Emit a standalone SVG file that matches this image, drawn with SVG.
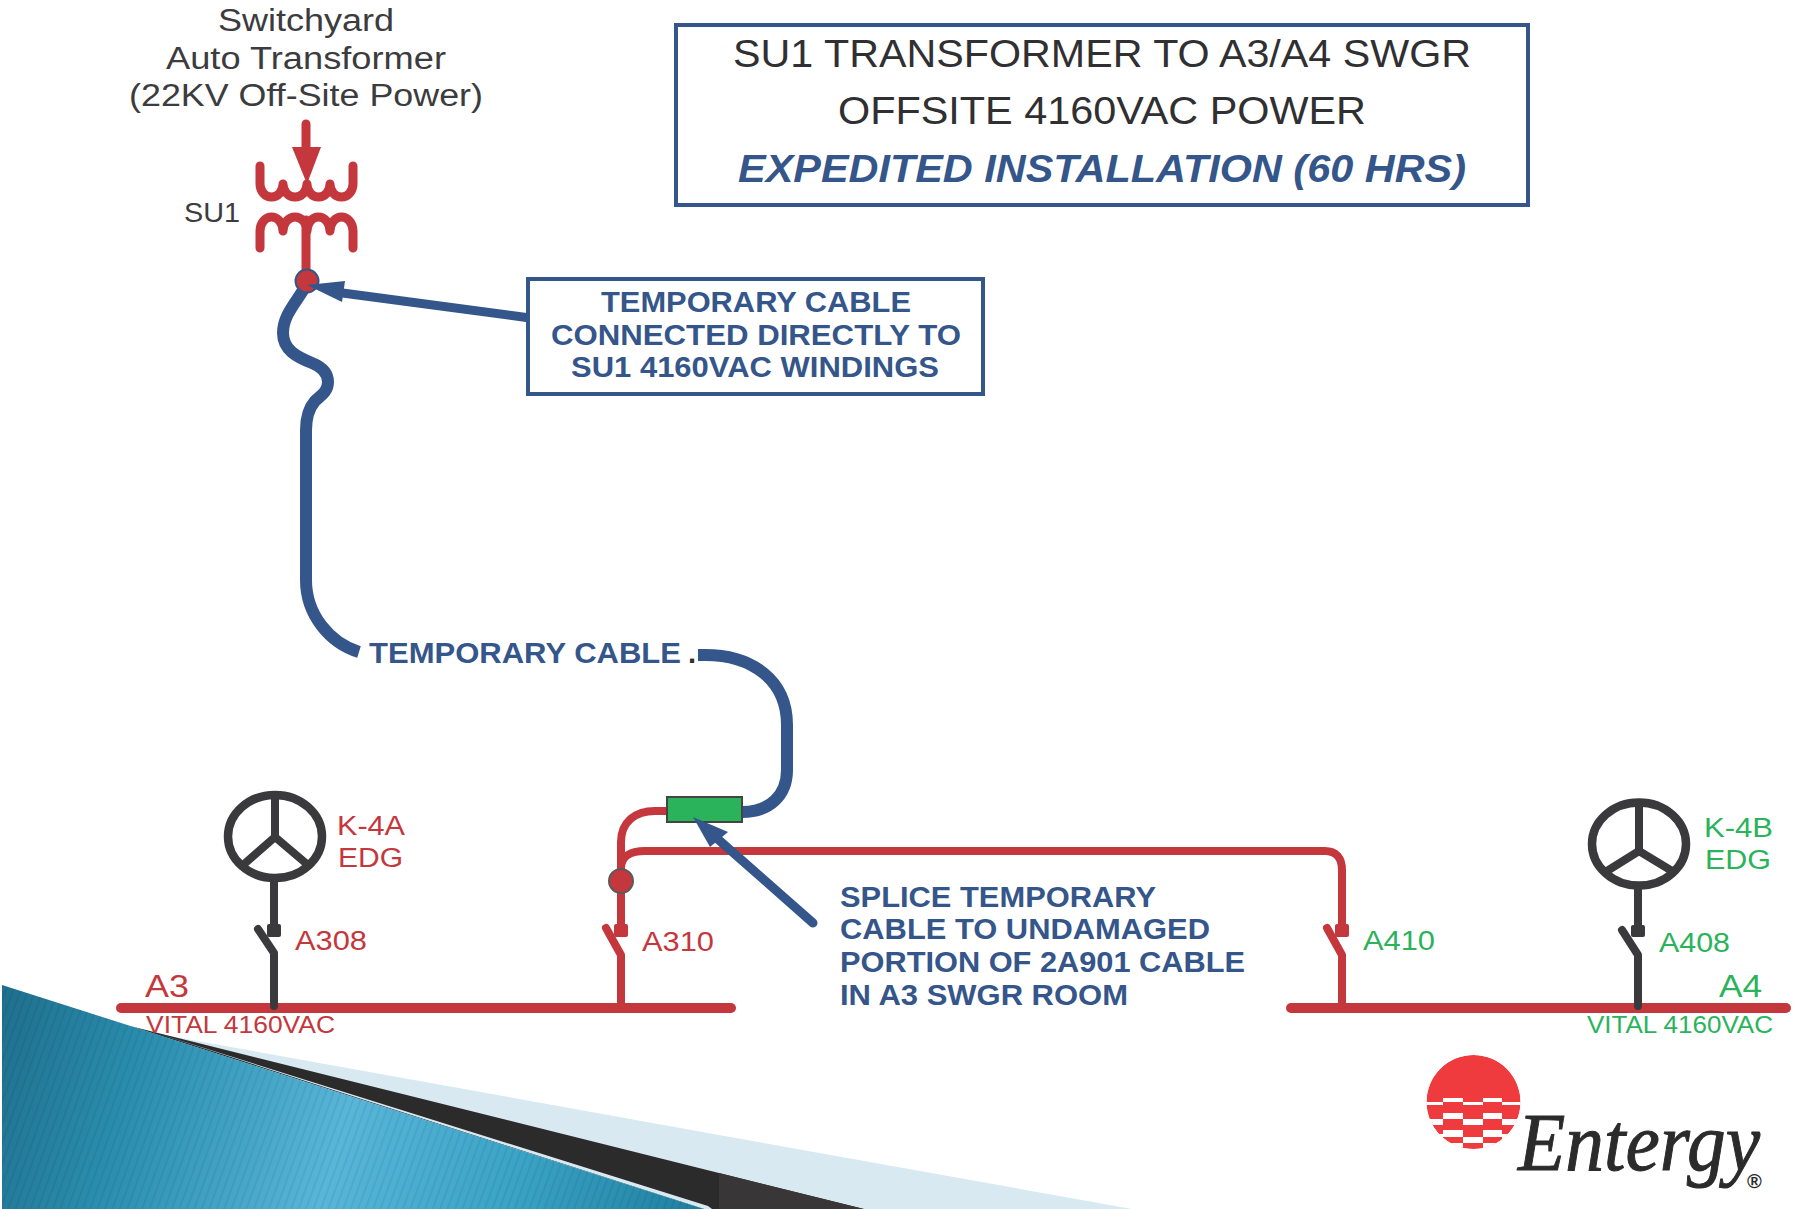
<svg xmlns="http://www.w3.org/2000/svg" width="1796" height="1209" viewBox="0 0 1796 1209">
<style>
text{font-family:"Liberation Sans",Arial,sans-serif}
.red{fill:#c4373c}.grn{fill:#2bb35c}.blu{fill:#35568a;font-weight:bold}.gry{fill:#3c3c3e}
.l26{font-size:27px}.l25{font-size:24px}
.w{fill:none;stroke:#c4373c;stroke-width:9;stroke-linecap:round;stroke-linejoin:round}
.r{fill:none;stroke:#c4373c;stroke-width:8;stroke-linecap:round;stroke-linejoin:round}
.c{fill:none;stroke:#35568a;stroke-width:12}
.d{fill:none;stroke:#3a3a3c;stroke-width:8;stroke-linecap:round;stroke-linejoin:round}
.bus{fill:none;stroke:#c4373c;stroke-width:10;stroke-linecap:round}
</style>
<defs>
<linearGradient id="teal" gradientUnits="userSpaceOnUse" x1="0" y1="1000" x2="700" y2="1209">
<stop offset="0" stop-color="#1f6f8e"/><stop offset="0.2" stop-color="#2a8dad"/><stop offset="0.5" stop-color="#58b6d9"/><stop offset="0.75" stop-color="#3aa3c6"/><stop offset="1" stop-color="#1f7f9f"/>
</linearGradient>
<pattern id="hatch" width="7" height="7" patternUnits="userSpaceOnUse" patternTransform="rotate(20)"><rect width="2" height="7" fill="#000" opacity="0.06"/></pattern>
<clipPath id="sun"><circle cx="1473.500" cy="1102" r="47"/></clipPath>
</defs>
<rect width="1796" height="1209" fill="#fff"/>

<g id="backdrop">
<polygon points="153,1033 719,1135 1132,1209 864,1209" fill="#d8e9f2"/>
<polygon points="130,1026 719,1173 864,1209 704,1209" fill="#2b2b2b"/>
<polygon points="719,1173 864,1209 719,1209" fill="#393637"/>
<polygon points="153,1032 708,1206 712,1209 704,1209" fill="#d8e9f2"/>
<polygon points="2,985 704,1209 2,1209" fill="url(#teal)"/>
<polygon points="2,985 704,1209 2,1209" fill="url(#hatch)"/>
</g>

<g id="title">
<rect x="676" y="25" width="852" height="180" fill="#fff" stroke="#35568a" stroke-width="4"/>
<text x="1102" y="67" text-anchor="middle" font-size="38" fill="#303032" textLength="738" lengthAdjust="spacingAndGlyphs">SU1 TRANSFORMER TO A3/A4 SWGR</text>
<text x="1102" y="124" text-anchor="middle" font-size="38" fill="#303032" textLength="528" lengthAdjust="spacingAndGlyphs">OFFSITE 4160VAC POWER</text>
<text x="1102" y="182" text-anchor="middle" font-size="38" fill="#35568a" font-weight="bold" font-style="italic" textLength="728" lengthAdjust="spacingAndGlyphs">EXPEDITED INSTALLATION (60 HRS)</text>
</g>

<g id="source-label" class="gry">
<text x="306" y="31" text-anchor="middle" font-size="31" textLength="176" lengthAdjust="spacingAndGlyphs">Switchyard</text>
<text x="306" y="69" text-anchor="middle" font-size="31" textLength="280" lengthAdjust="spacingAndGlyphs">Auto Transformer</text>
<text x="306" y="106" text-anchor="middle" font-size="31" textLength="354" lengthAdjust="spacingAndGlyphs">(22KV Off-Site Power)</text>
</g>

<g id="connectors">
<path class="c" d="M305 287 C296 303 283 315 283 333 C283 350 297 357 312 363 C322 367 328 373 328 382 C328 392 320 396 315 401 C309 408 306 416 306 430 L306 580 C306 615 330 643 359 652"/>
<path class="c" d="M698 655 L705 655 C752 655 787 680 787 725 L787 770 C787 795 770 812 742 812"/>
<path class="r" d="M667 811 L655 811 C635 811 621 822 621 842 L621 928"/>
<path class="r" d="M621 868 C621 857 630 851 645 851 L1325 851 C1336 851 1342 858 1342 870 L1342 928"/>
</g>

<g id="su1">
<path class="w" d="M306 124 L306 160"/>
<polygon points="292,147 321,147 307,184" fill="#c4373c"/>
<path class="w" d="M260 166 L260 184 A11.500 13 0 0 0 283 184 A12 13 0 0 0 307 184 A11.500 13 0 0 0 330 184 A11.500 13 0 0 0 353 184 L353 166"/>
<path class="w" d="M260 248 L260 231 A11.500 14 0 0 1 283 231 A12 14 0 0 1 307 231 A11.500 14 0 0 1 330 231 A11.500 14 0 0 1 353 231 L353 248"/>
<path class="w" d="M306 220 L306 282"/>
<circle cx="307" cy="281" r="11.500" fill="#c4373c" stroke="#35568a" stroke-width="2"/>
<text x="184" y="222" font-size="28" class="gry" textLength="56" lengthAdjust="spacingAndGlyphs">SU1</text>
</g>

<g id="callout-su1">
<path d="M530 318 L335 292" fill="none" stroke="#35568a" stroke-width="9" stroke-linecap="round"/>
<polygon points="307,285 345,281 342,302" fill="#35568a"/>
<rect x="528" y="279" width="455" height="115" fill="#fff" stroke="#35568a" stroke-width="4"/>
<text class="blu" x="756" y="312" text-anchor="middle" font-size="29" textLength="310" lengthAdjust="spacingAndGlyphs">TEMPORARY CABLE</text>
<text class="blu" x="756" y="345" text-anchor="middle" font-size="29" textLength="410" lengthAdjust="spacingAndGlyphs">CONNECTED DIRECTLY TO</text>
<text class="blu" x="755" y="377" text-anchor="middle" font-size="29" textLength="368" lengthAdjust="spacingAndGlyphs">SU1 4160VAC WINDINGS</text>
</g>

<g id="cable-label">
<text class="blu" x="369" y="663" font-size="29" textLength="312" lengthAdjust="spacingAndGlyphs">TEMPORARY CABLE</text>
<text x="688" y="663" font-size="29" font-weight="bold" fill="#303032">.</text>
</g>

<g id="splice">
<rect x="667" y="797" width="75" height="25" fill="#2bb35c" stroke="#444" stroke-width="2"/>
<path d="M813 923 L712 834" fill="none" stroke="#35568a" stroke-width="9" stroke-linecap="round"/>
<polygon points="693,817 728,832 710,847" fill="#35568a"/>
<text class="blu" x="840" y="907" font-size="29" textLength="316" lengthAdjust="spacingAndGlyphs">SPLICE TEMPORARY</text>
<text class="blu" x="840" y="939" font-size="29" textLength="370" lengthAdjust="spacingAndGlyphs">CABLE TO UNDAMAGED</text>
<text class="blu" x="840" y="972" font-size="29" textLength="405" lengthAdjust="spacingAndGlyphs">PORTION OF 2A901 CABLE</text>
<text class="blu" x="840" y="1005" font-size="29" textLength="288" lengthAdjust="spacingAndGlyphs">IN A3 SWGR ROOM</text>
</g>

<g id="bus-a3">
<line class="bus" x1="121" y1="1008" x2="731" y2="1008"/>
<text class="red" x="145" y="997" font-size="32" textLength="44" lengthAdjust="spacingAndGlyphs">A3</text>
<text class="red l25" x="146" y="1033" textLength="189" lengthAdjust="spacingAndGlyphs">VITAL 4160VAC</text>
</g>
<g id="bus-a4">
<line class="bus" x1="1291" y1="1008" x2="1786" y2="1008"/>
<text class="grn" x="1719" y="997" font-size="32" textLength="43" lengthAdjust="spacingAndGlyphs">A4</text>
<text class="grn l25" x="1587" y="1033" textLength="186" lengthAdjust="spacingAndGlyphs">VITAL 4160VAC</text>
</g>

<g id="breaker-a310">
<circle cx="621" cy="881" r="12" fill="#c4373c" stroke="#5a5a5a" stroke-width="2"/>
<rect x="614" y="924" width="14" height="13" rx="2" fill="#c4373c"/>
<path class="r" d="M606 928 L621 955 L621 1006"/>
<text class="red l26" x="642" y="951" textLength="72" lengthAdjust="spacingAndGlyphs">A310</text>
</g>
<g id="breaker-a410">
<rect x="1335" y="924" width="14" height="13" rx="2" fill="#c4373c"/>
<path class="r" d="M1327 928 L1342 955 L1342 1006"/>
<text class="grn l26" x="1363" y="950" textLength="72" lengthAdjust="spacingAndGlyphs">A410</text>
</g>

<g id="edg-k4a">
<ellipse cx="275" cy="836.500" rx="47" ry="41.500" fill="none" stroke="#3a3a3c" stroke-width="8.500"/>
<path class="d" d="M275 795 L275 837 M243 865 L275 837 L308 865"/>
<path class="d" d="M274 882 L274 924 M258 929 L274 953 L274 1006"/>
<rect x="267" y="924" width="14" height="13" rx="2" fill="#3a3a3c"/>
<text class="red l26" x="337" y="835" textLength="68" lengthAdjust="spacingAndGlyphs">K-4A</text>
<text class="red l26" x="338" y="867" textLength="65" lengthAdjust="spacingAndGlyphs">EDG</text>
<text class="red l26" x="295" y="950" textLength="72" lengthAdjust="spacingAndGlyphs">A308</text>
</g>
<g id="edg-k4b">
<ellipse cx="1639" cy="844" rx="47" ry="41.500" fill="none" stroke="#3a3a3c" stroke-width="8.500"/>
<path class="d" d="M1639 803 L1639 851 M1607 871 L1639 851 L1672 871"/>
<path class="d" d="M1638 889 L1638 926 M1622 930 L1638 955 L1638 1006"/>
<rect x="1631" y="925" width="14" height="12" rx="2" fill="#3a3a3c"/>
<text class="grn l26" x="1704" y="837" textLength="69" lengthAdjust="spacingAndGlyphs">K-4B</text>
<text class="grn l26" x="1705" y="869" textLength="66" lengthAdjust="spacingAndGlyphs">EDG</text>
<text class="grn l26" x="1659" y="952" textLength="71" lengthAdjust="spacingAndGlyphs">A408</text>
</g>

<g id="logo">
<g clip-path="url(#sun)">
<circle cx="1473.500" cy="1102" r="47" fill="#ef3b3d"/>
<g fill="#fff">
<rect x="1443" y="1098" width="20" height="4"/><rect x="1483" y="1098" width="19" height="4"/>
<rect x="1425" y="1102" width="18" height="3"/><rect x="1463" y="1102" width="20" height="3"/><rect x="1502" y="1102" width="20" height="3"/>
<rect x="1443" y="1113" width="20" height="6"/><rect x="1483" y="1113" width="19" height="6"/>
<rect x="1425" y="1119" width="18" height="6"/><rect x="1463" y="1119" width="20" height="6"/><rect x="1502" y="1119" width="20" height="6"/>
<rect x="1443" y="1130" width="20" height="7"/><rect x="1483" y="1130" width="19" height="7"/>
<rect x="1425" y="1134" width="18" height="6"/><rect x="1502" y="1134" width="20" height="6"/>
<rect x="1463" y="1137" width="20" height="6"/>
<rect x="1425" y="1143" width="38" height="7"/><rect x="1483" y="1143" width="40" height="7"/>
</g>
</g>
<text x="1518" y="1170" font-size="83" font-style="italic" fill="#2b2b2b" stroke="#2b2b2b" stroke-width="1" style="font-family:'Liberation Serif',serif" textLength="242" lengthAdjust="spacingAndGlyphs">Entergy</text>
<text x="1747" y="1188" font-size="20" font-weight="bold" fill="#2b2b2b">®</text>
</g>
</svg>
